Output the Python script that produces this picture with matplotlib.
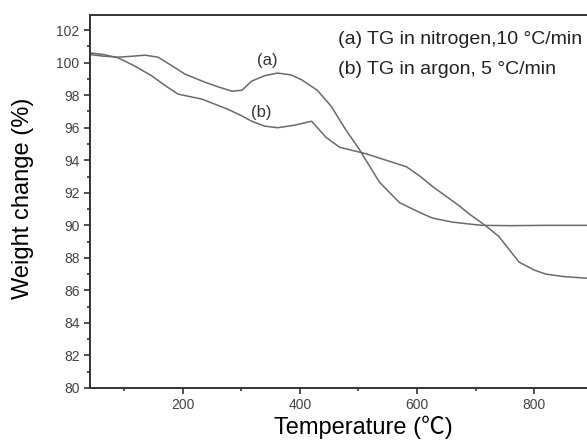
import matplotlib
matplotlib.use("Agg")
import matplotlib.pyplot as plt
from matplotlib.ticker import MultipleLocator

plt.rcParams['font.family'] = ['Liberation Sans', 'Noto Sans CJK SC', 'DejaVu Sans']

# curve (a): TG in nitrogen, 10 C/min
temp_a = [42, 65, 90, 115, 136, 158, 180, 204, 238, 262, 284, 301, 318, 340, 362,
          385, 403, 430, 454, 478, 501, 536, 570, 604, 626, 660, 684, 711, 760, 820, 890]
weight_a = [100.5, 100.4, 100.34, 100.4, 100.46, 100.34, 99.85, 99.3, 98.8, 98.5,
            98.25, 98.3, 98.87, 99.2, 99.36, 99.25, 98.95, 98.3, 97.3, 95.9, 94.7,
            92.65, 91.4, 90.8, 90.45, 90.2, 90.1, 90.0, 89.98, 90.0, 90.0]

# curve (b): TG in argon, 5 C/min
temp_b = [42, 65, 90, 118, 147, 170, 192, 233, 277, 300, 318, 340, 362, 390, 420,
          445, 468, 513, 582, 604, 626, 672, 689, 718, 740, 774, 800, 820, 850, 890]
weight_b = [100.6, 100.5, 100.3, 99.8, 99.2, 98.6, 98.07, 97.76, 97.14, 96.75, 96.4,
            96.1, 96.0, 96.15, 96.4, 95.4, 94.8, 94.4, 93.6, 93.05, 92.4, 91.2,
            90.7, 89.95, 89.3, 87.74, 87.25, 87.0, 86.85, 86.75]

fig = plt.figure(figsize=(5.87, 4.42), dpi=100)
ax = fig.add_axes([0.1533, 0.1222, 0.8467, 0.8438])

ax.plot(temp_a, weight_a, color='#6a6a6a', lw=1.1)
ax.plot(temp_b, weight_b, color='#6a6a6a', lw=1.1)

ax.set_xlim(42, 890)
ax.set_ylim(80, 102.93)
ax.set_xticks([200, 400, 600, 800])
ax.set_yticks(range(80, 103, 2))
ax.xaxis.set_minor_locator(MultipleLocator(100))
ax.yaxis.set_minor_locator(MultipleLocator(1))
ax.tick_params(which='major', direction='out', length=4, width=1.2, colors='#333333',
               labelsize=10, labelcolor='#444444')
ax.tick_params(which='minor', direction='out', length=2.5, width=1.2, colors='#333333')
ax.spines['right'].set_visible(False)
for s in ['left', 'bottom', 'top']:
    ax.spines[s].set_color('#333333')
    ax.spines[s].set_linewidth(1.4)

ax.set_xlabel('Temperature (℃)', fontsize=17)
ax.xaxis.set_label_coords(0.55, -0.075)
ax.set_ylabel('Weight change (%)', fontsize=17)
ax.yaxis.set_label_coords(-0.113, 0.508)

ax.text(345, 100.16, '(a)', fontsize=12, color='#333333', ha='center', va='center')
ax.text(335, 96.96, '(b)', fontsize=12, color='#333333', ha='center', va='center')
ax.text(466, 101.44, '(a) TG in nitrogen,10 °C/min', fontsize=14, color='#222222',
        va='center')
ax.text(466, 99.6, '(b) TG in argon, 5 °C/min', fontsize=14, color='#222222',
        va='center')

fig.savefig('out.png', dpi=100)
